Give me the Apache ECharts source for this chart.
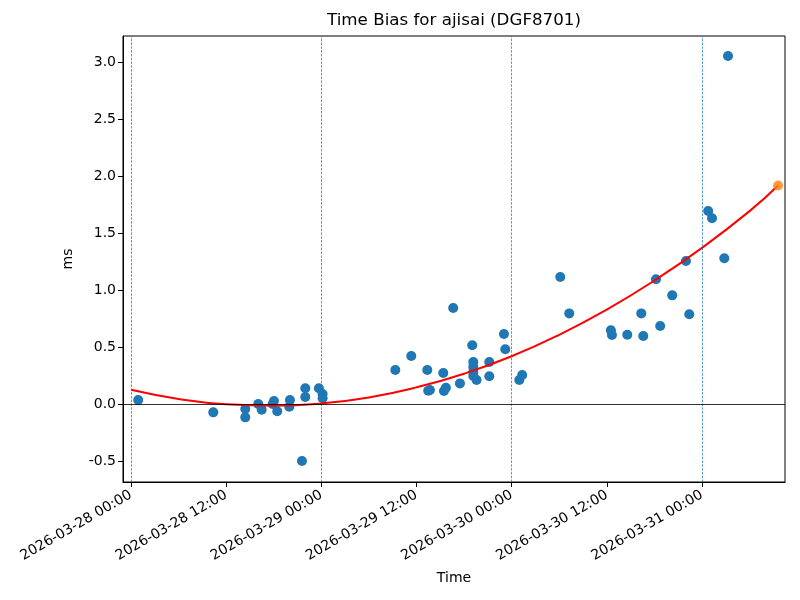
<!DOCTYPE html>
<html>
<head>
<meta charset="utf-8">
<script src="https://cdn.jsdelivr.net/npm/echarts@6/dist/echarts.min.js"></script>
<style>html,body{margin:0;padding:0;background:#fff}#c{width:800px;height:600px}</style>
</head>
<body>
<div id="c"></div>
<script>
// ---- data ----
const obsTimes = [
  '2026-03-28 00:55','2026-03-28 10:23','2026-03-28 14:25','2026-03-28 14:25','2026-03-28 16:03',
  '2026-03-28 16:29','2026-03-28 18:02','2026-03-28 17:52','2026-03-28 18:27','2026-03-28 20:03',
  '2026-03-28 19:58','2026-03-28 21:34','2026-03-28 21:59','2026-03-28 21:59','2026-03-28 23:42',
  '2026-03-29 00:10','2026-03-29 00:10',
  '2026-03-29 09:20','2026-03-29 11:21','2026-03-29 13:22','2026-03-29 13:29','2026-03-29 13:42',
  '2026-03-29 15:23','2026-03-29 15:28','2026-03-29 15:43','2026-03-29 16:38','2026-03-29 17:29',
  '2026-03-29 19:02','2026-03-29 19:10','2026-03-29 19:10','2026-03-29 19:10','2026-03-29 19:10',
  '2026-03-29 19:35','2026-03-29 21:11','2026-03-29 21:11','2026-03-29 23:02','2026-03-29 23:12',
  '2026-03-30 00:58','2026-03-30 01:20','2026-03-30 06:08','2026-03-30 07:16','2026-03-30 12:31',
  '2026-03-30 12:39','2026-03-30 14:35','2026-03-30 16:21','2026-03-30 16:36','2026-03-30 18:12',
  '2026-03-30 18:44','2026-03-30 20:15','2026-03-30 21:59','2026-03-30 22:24',
  '2026-03-31 00:47','2026-03-31 01:16','2026-03-31 02:49','2026-03-31 03:17'
];
const obsBias = [
  0.035,-0.073,-0.044,-0.117,0.0,
  -0.05,0.026,0.0,-0.064,0.035,
  -0.024,-0.50,0.138,0.061,0.138,
  0.088,0.05,
  0.298,0.421,0.298,0.117,0.123,
  0.272,0.114,0.143,0.842,0.181,
  0.515,0.368,0.327,0.283,0.246,
  0.21,0.368,0.243,0.614,0.48,
  0.21,0.254,1.114,0.795,0.646,
  0.605,0.608,0.795,0.596,1.094,
  0.684,0.953,1.254,0.787,
  1.693,1.629,1.278,3.053
];
const fitTimes = [
  '2026-03-28 00:00','2026-03-28 06:00','2026-03-28 12:00','2026-03-28 18:00','2026-03-29 00:00',
  '2026-03-29 06:00','2026-03-29 12:00','2026-03-29 18:00','2026-03-30 00:00','2026-03-30 06:00',
  '2026-03-30 12:00','2026-03-30 18:00','2026-03-31 00:00','2026-03-31 06:00','2026-03-31 09:36'
];
const fitBias = [0.125,0.045,-0.002,-0.015,0.005,0.058,0.146,0.266,0.419,0.607,0.828,1.083,1.370,1.692,1.917];
const predTime = ['2026-03-31 09:36'];
const predBias = [1.917];
const xTickLabels = ['2026-03-28 00:00','2026-03-28 12:00','2026-03-29 00:00','2026-03-29 12:00',
  '2026-03-30 00:00','2026-03-30 12:00','2026-03-31 00:00'];
const dayLines = ['2026-03-28 00:00','2026-03-29 00:00','2026-03-30 00:00','2026-03-31 00:00'];
const yTicks = [-0.5,0.0,0.5,1.0,1.5,2.0,2.5,3.0];

// ---- helpers ----
const BASE = Date.UTC(2026,2,28,0,0);
function toH(s){
  const m = s.match(/(\d+)-(\d+)-(\d+) (\d+):(\d+)/);
  return (Date.UTC(+m[1],+m[2]-1,+m[3],+m[4],+m[5]) - BASE)/3600000;
}
function fmtH(h){
  const d = new Date(BASE + Math.round(h*3600000));
  const p = n => String(n).padStart(2,'0');
  return d.getUTCFullYear()+'-'+p(d.getUTCMonth()+1)+'-'+p(d.getUTCDate())+' '+p(d.getUTCHours())+':'+p(d.getUTCMinutes());
}
const obsData = obsTimes.map((t,i)=>[toH(t),obsBias[i]]);
const fitData = fitTimes.map((t,i)=>[toH(t),fitBias[i]]);
const predData = predTime.map((t,i)=>[toH(t),predBias[i]]);
const xTickVals = xTickLabels.map(toH);
const FONT = 'DejaVu Sans';

const chart = echarts.init(document.getElementById('c'), null, {renderer:'canvas'});
chart.setOption({
  animation:false,
  backgroundColor:'#fff',
  textStyle:{fontFamily:FONT},
  graphic:[{type:'text', x:454, y:21, style:{text:'Time Bias for ajisai (DGF8701)', textAlign:'center', textVerticalAlign:'middle',
    font:'16.7px "DejaVu Sans"', fill:'#000'}, z:100}],
  grid:{left:123, top:36, right:15, bottom:118, show:true, borderColor:'#000', borderWidth:1, backgroundColor:'transparent'},
  xAxis:{
    type:'value', min:-1.0, max:82.47,
    name:'Time', nameLocation:'middle', nameGap:89,
    nameTextStyle:{fontFamily:FONT, fontSize:14, color:'#000'},
    axisLine:{show:true, onZero:false, lineStyle:{color:'#000', width:1}},
    axisTick:{show:true, length:5, lineStyle:{color:'#000', width:1}, customValues:xTickVals},
    axisLabel:{show:true, rotate:30, margin:12, fontFamily:FONT, fontSize:14, color:'#000',
      customValues:xTickVals, formatter:v=>fmtH(v)},
    splitLine:{show:false}
  },
  yAxis:{
    type:'value', min:-0.684, max:3.228,
    name:'ms', nameLocation:'middle', nameGap:48, nameRotate:90,
    nameTextStyle:{fontFamily:FONT, fontSize:14, color:'#000'},
    axisLine:{show:true, onZero:false, lineStyle:{color:'#000', width:1}},
    axisTick:{show:true, length:5, lineStyle:{color:'#000', width:1}, customValues:yTicks},
    axisLabel:{show:true, margin:7, fontFamily:FONT, fontSize:14, color:'#000',
      customValues:yTicks, formatter:v=>v.toFixed(1)},
    splitLine:{show:false}
  },
  series:[
    {type:'scatter', data:obsData, symbol:'circle', symbolSize:10, itemStyle:{color:'#1f77b4', opacity:1}, z:3,
      markLine:{silent:true, symbol:'none', label:{show:false}, animation:false,
        data:[
          ...dayLines.map(t=>({xAxis:toH(t), lineStyle:{color:'#1f77b4', type:[2.5,1.3], width:1, opacity:0.75}})),
          {yAxis:0, lineStyle:{color:'#000', type:'solid', width:0.8}}
        ]}},
    {type:'line', data:fitData, smooth:true, showSymbol:false, symbol:'none', lineStyle:{color:'#ff0000', width:2}, z:4},
    {type:'scatter', data:predData, symbol:'circle', symbolSize:10, itemStyle:{color:'#ff7f0e'}, z:5}
  ]
});
</script>
</body>
</html>
